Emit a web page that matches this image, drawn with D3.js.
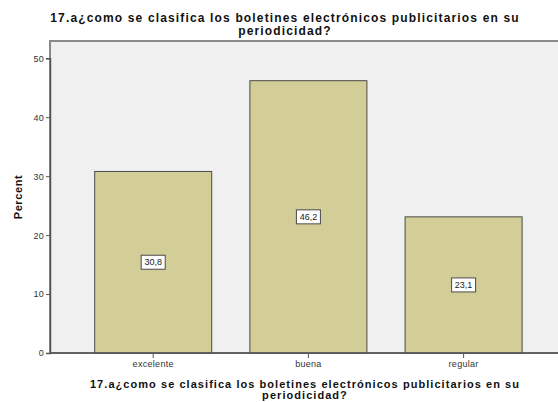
<!DOCTYPE html>
<html>
<head>
<meta charset="utf-8">
<script src="https://cdn.jsdelivr.net/npm/d3@7"></script>
<style>
  html, body { margin: 0; padding: 0; background: #ffffff; }
  svg { display: block; font-family: "Liberation Sans", Arial, sans-serif; }
</style>
</head>
<body>
<svg id="chart" width="558" height="402"></svg>
<script>
// Periodicity rating of promotional e-newsletters (percent of respondents)
const categories = ["excelente", "buena", "regular"];
const percents = [30.8, 46.2, 23.1];
const valueLabels = ["30,8", "46,2", "23,1"];
const yTicks = [0, 10, 20, 30, 40, 50];
const titleLines = ["17.a¿como se clasifica los boletines electrónicos publicitarios en su", "periodicidad?"];

const svg = d3.select("#chart");
const plot = { left: 50, right: 560, top: 41, bottom: 353 };

const x = d3.scaleBand()
  .domain(categories)
  .range([75.6, 541.2])
  .paddingInner(0.246)
  .paddingOuter(0.123);

const y = d3.scaleLinear()
  .domain([0, 50])
  .range([plot.bottom, 58.3]);

// plot background and frame
svg.append("rect")
  .attr("x", plot.left).attr("y", plot.top)
  .attr("width", plot.right - plot.left).attr("height", plot.bottom - plot.top)
  .attr("fill", "#f0f0f0")
  .attr("stroke", "#8a8a8a").attr("stroke-width", 2);

// bars
svg.append("g").selectAll("rect")
  .data(categories)
  .join("rect")
  .attr("x", d => x(d))
  .attr("y", (d, i) => y(percents[i]))
  .attr("width", x.bandwidth())
  .attr("height", (d, i) => y(0) - y(percents[i]))
  .attr("fill", "#d3cd98")
  .attr("stroke", "#4a4a4a").attr("stroke-width", 1);

// value labels in boxes
const lab = svg.append("g").selectAll("g")
  .data(categories)
  .join("g")
  .attr("transform", (d, i) => `translate(${x(d) + x.bandwidth() / 2},${(y(percents[i]) + y(0)) / 2})`);
lab.append("rect")
  .attr("x", -12).attr("y", -7).attr("width", 24).attr("height", 14)
  .attr("fill", "#ffffff").attr("stroke", "#4a4a4a").attr("stroke-width", 1);
lab.append("text")
  .attr("text-anchor", "middle").attr("dy", "0.35em")
  .attr("font-size", 9).attr("fill", "#222")
  .text((d, i) => valueLabels[i]);

// axes
const yAxis = svg.append("g")
  .attr("transform", `translate(${plot.left},0)`)
  .call(d3.axisLeft(y).tickValues(yTicks).tickSize(4).tickPadding(2));
const xAxis = svg.append("g")
  .attr("transform", `translate(0,${plot.bottom})`)
  .call(d3.axisBottom(x).tickSize(5).tickPadding(3));
[yAxis, xAxis].forEach(g => {
  g.select(".domain").attr("stroke", "#555").attr("stroke-width", 1.5);
  g.selectAll(".tick line").attr("stroke", "#555");
  g.selectAll(".tick text").attr("fill", "#333").attr("font-size", 9)
    .attr("letter-spacing", 0.3)
    .attr("font-family", "Liberation Sans, Arial, sans-serif");
});
xAxis.select(".domain").attr("d", `M${plot.left},0H${plot.right}`);

// y axis title
svg.append("text")
  .attr("transform", `translate(22,${(plot.top + plot.bottom) / 2}) rotate(-90)`)
  .attr("text-anchor", "middle")
  .attr("font-size", 11).attr("font-weight", "bold").attr("fill", "#111")
  .attr("letter-spacing", 0.6)
  .text("Percent");

// two-line title block as one text element with tspans
function titleBlock(cx, y0, lineStep, size, spacing) {
  const t = svg.append("text")
    .attr("text-anchor", "middle")
    .attr("font-size", size).attr("font-weight", "bold").attr("fill", "#111")
    .attr("letter-spacing", spacing);
  t.selectAll("tspan")
    .data(titleLines)
    .join("tspan")
    .attr("x", cx)
    .attr("y", (d, i) => y0 + i * lineStep)
    .text(d => d);
}

// chart title
titleBlock(285, 21.5, 13, 12, 1.15);
// x axis title
titleBlock(305, 387.5, 11, 11, 1.05);
</script>
</body>
</html>
